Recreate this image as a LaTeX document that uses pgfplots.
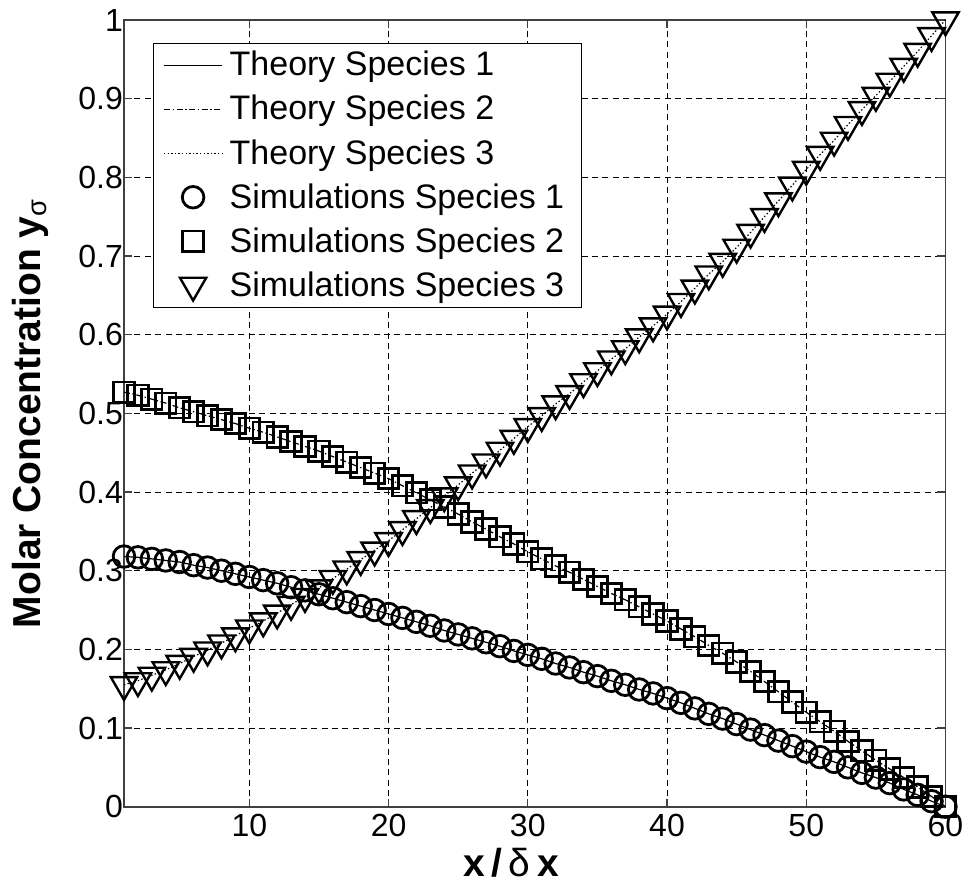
\documentclass[border=0pt]{standalone}
\usepackage{fontspec}
\setmainfont{Liberation Sans}
\usepackage{pgfplots}
\usepackage{pgfplotstable}
\pgfplotsset{compat=1.18}

\pgfplotstableread{
x  s1    s2    s3
1  0.318 0.527 0.155
2  0.317 0.523 0.160
3  0.315 0.518 0.167
4  0.313 0.513 0.174
5  0.311 0.507 0.182
6  0.307 0.502 0.191
7  0.304 0.497 0.199
8  0.300 0.492 0.208
9  0.296 0.487 0.217
10 0.292 0.481 0.227
11 0.288 0.476 0.236
12 0.284 0.470 0.246
13 0.279 0.464 0.257
14 0.275 0.458 0.267
15 0.270 0.452 0.278
16 0.265 0.445 0.290
17 0.260 0.438 0.302
18 0.255 0.431 0.314
19 0.250 0.424 0.326
20 0.245 0.417 0.338
21 0.240 0.408 0.352
22 0.235 0.399 0.366
23 0.230 0.390 0.380
24 0.224 0.381 0.395
25 0.219 0.372 0.409
26 0.214 0.362 0.424
27 0.209 0.353 0.438
28 0.204 0.343 0.453
29 0.198 0.334 0.468
30 0.193 0.324 0.483
31 0.188 0.315 0.497
32 0.182 0.306 0.512
33 0.177 0.298 0.525
34 0.171 0.289 0.540
35 0.166 0.280 0.554
36 0.160 0.271 0.569
37 0.155 0.263 0.582
38 0.149 0.254 0.597
39 0.144 0.245 0.611
40 0.138 0.236 0.626
41 0.132 0.226 0.642
42 0.125 0.216 0.659
43 0.118 0.205 0.677
44 0.112 0.195 0.693
45 0.105 0.184 0.711
46 0.098 0.172 0.730
47 0.091 0.159 0.750
48 0.084 0.146 0.770
49 0.077 0.133 0.790
50 0.070 0.120 0.810
51 0.063 0.108 0.829
52 0.057 0.096 0.847
53 0.050 0.083 0.867
54 0.043 0.071 0.886
55 0.037 0.059 0.904
56 0.030 0.048 0.922
57 0.022 0.037 0.941
58 0.015 0.025 0.960
59 0.007 0.013 0.980
60 0.000 0.000 1.000
}\datatable

\begin{document}
\begin{tikzpicture}
\begin{axis}[
  scale only axis,
  width=410.75pt, height=393.35pt,
  xmin=1, xmax=60, ymin=0, ymax=1,
  xtick={10,20,30,40,50,60},
  ytick={0,0.1,0.2,0.3,0.4,0.5,0.6,0.7,0.8,0.9,1},
  yticklabel style={/pgf/number format/fixed, /pgf/number format/precision=1, xshift=3pt},
  /pgf/number format/assume math mode=true,
  tick label style={font=\fontsize{16}{19}\selectfont, black},
  tick align=inside,
  major tick length=4pt,
  axis line style={black!75, line width=0.9pt},
  every tick/.style={black!75, line width=0.7pt},
  grid=major,
  major grid style={black, line width=0.5pt, dash pattern=on 3pt off 2.2pt},
  clip=false,
  xlabel={\textbf{x}\hspace{3.3pt}\textbf{/}\hspace{3.3pt}δ\hspace{3.3pt}\textbf{x}},
  ylabel={\textbf{Molar Concentration y}\textsubscript{σ}},
  label style={font=\fontsize{19.5}{22}\selectfont},
  xlabel style={at={(axis description cs:0.471,-0.089)}, anchor=base},
  ylabel style={at={(axis description cs:-0.102,0.5)}, anchor=base},
  legend style={
    at={(axis description cs:0.0353,0.971)}, anchor=north west,
    draw=black, line width=0.5pt, fill=white,
    font=\fontsize{17}{20}\selectfont,
    inner xsep=5pt, inner ysep=3pt,
    row sep=6.2pt,
    nodes={inner xsep=3.5pt, inner ysep=1pt},
  },
  legend cell align=left,
  legend image code/.code={
    \draw[mark repeat=2, mark phase=2] plot coordinates {(0pt,0pt) (14.5pt,0pt) (29pt,0pt)};
  },
]
\addplot[black, line width=0.6pt, solid, no markers] table[x=x, y=s1] {\datatable};
\addlegendentry{Theory Species 1}
\addplot[black, line width=0.6pt, dash pattern=on 3pt off 1.3pt on 0.7pt off 1.3pt, no markers] table[x=x, y=s2] {\datatable};
\addlegendentry{Theory Species 2}
\addplot[black, line width=0.6pt, dash pattern=on 0.7pt off 1.1pt, no markers] table[x=x, y=s3] {\datatable};
\addlegendentry{Theory Species 3}
\addplot[black, only marks, mark=o, mark size=5.4pt, mark options={line width=1.4pt, solid}] table[x=x, y=s1] {\datatable};
\addlegendentry{Simulations Species 1}
\addplot[black, only marks, mark=square, mark size=5.1pt, mark options={line width=1.4pt, solid}] table[x=x, y=s2] {\datatable};
\addlegendentry{Simulations Species 2}
\addplot[black, only marks, mark=triangle, mark size=7.6pt, mark options={line width=1.2pt, solid, rotate=180}] table[x=x, y=s3] {\datatable};
\addlegendentry{Simulations Species 3}
\end{axis}
\pgfresetboundingbox
\path[use as bounding box] ([shift={(-62pt,-41.15pt)}]current axis.south west) rectangle ([shift={(421pt,403.35pt)}]current axis.south west);
\end{tikzpicture}
\end{document}
